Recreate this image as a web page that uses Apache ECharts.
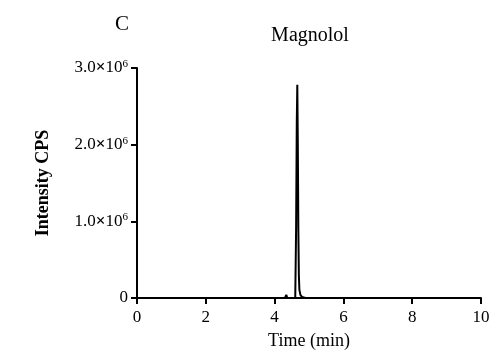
<!DOCTYPE html>
<html>
<head>
<meta charset="utf-8">
<script src="https://cdn.jsdelivr.net/npm/echarts@6/dist/echarts.min.js"></script>
<style>
  html, body { margin: 0; padding: 0; background: #fff; }
  #chart { width: 498px; height: 357px; }
</style>
</head>
<body>
<div id="chart"></div>
<script>
// chromatogram (time in min, intensity in CPS)
const times = [0, 4.0, 4.3, 4.34, 4.37, 4.42, 4.6, 4.625, 4.645, 4.66, 4.675, 4.69, 4.705, 4.72, 4.75, 4.8, 4.9, 6, 10];
const intensity = [0, 0, 0, 40000, 0, 0, 0, 900000, 2300000, 2780000, 2000000, 900000, 300000, 110000, 40000, 12000, 0, 0, 0];
const xTicks = [0, 2, 4, 6, 8, 10];
const yTicks = [0, 1e6, 2e6, 3e6];

const serif = "Liberation Serif";
const chart = echarts.init(document.getElementById("chart"));

chart.setOption({
  animation: false,
  title: [
    {
      text: "C",
      left: 110,
      top: 9,
      textStyle: { fontFamily: serif, fontSize: 21, fontWeight: "normal", color: "#000" },
    },
    {
      text: "Magnolol",
      left: 305,
      top: 21,
      textAlign: "center",
      textStyle: { fontFamily: serif, fontSize: 20, fontWeight: "normal", color: "#000" },
    },
  ],
  grid: { left: 137, right: 17, top: 68, bottom: 59 },
  xAxis: {
    type: "value",
    min: 0,
    max: 10,
    interval: 2,
    name: "Time (min)",
    nameLocation: "middle",
    nameGap: 34,
    nameTextStyle: { fontFamily: serif, fontSize: 18, color: "#000" },
    axisLine: { lineStyle: { color: "#000", width: 2 } },
    axisTick: { length: 6, lineStyle: { color: "#000", width: 2 } },
    axisLabel: {
      fontFamily: serif, fontSize: 17, color: "#000", margin: 11,
      formatter: (v) => (xTicks.includes(v) ? String(v) : ""),
    },
    splitLine: { show: false },
  },
  yAxis: {
    type: "value",
    min: 0,
    max: 3e6,
    interval: 1e6,
    name: "Intensity CPS",
    nameLocation: "middle",
    nameGap: 85,
    nameTextStyle: { fontFamily: serif, fontSize: 18, fontWeight: "bold", color: "#000" },
    axisLine: { show: true, lineStyle: { color: "#000", width: 2 } },
    axisTick: { show: true, length: 6, lineStyle: { color: "#000", width: 2 } },
    axisLabel: {
      margin: 9,
      formatter: (v) => {
        if (!yTicks.includes(v)) return "";
        if (v === 0) return "{b|0}";
        return "{b|" + (v / 1e6).toFixed(1) + "}{x|×}{b|10}{s|6}";
      },
      rich: {
        b: { fontFamily: serif, fontSize: 17, color: "#000" },
        x: { fontFamily: serif, fontSize: 17, fontWeight: "bold", color: "#000" },
        s: { fontFamily: serif, fontSize: 11, color: "#000", verticalAlign: "top", padding: [0, 0, 8, 0] },
      },
    },
    splitLine: { show: false },
  },
  series: [
    {
      type: "line",
      data: times.map((t, i) => [t, intensity[i]]),
      symbol: "none",
      lineStyle: { color: "#000", width: 2 },
    },
  ],
});
</script>
</body>
</html>
